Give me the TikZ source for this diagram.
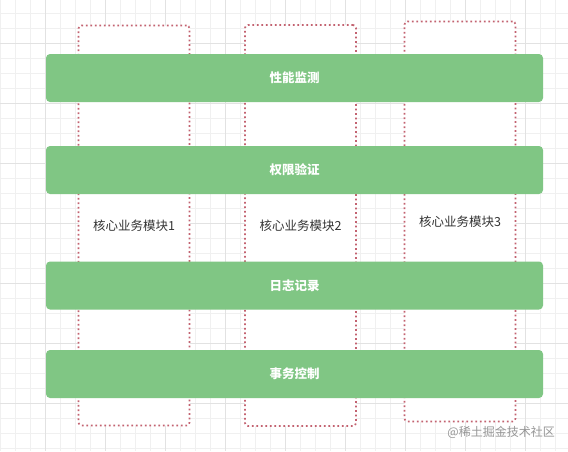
\documentclass[tikz,border=0pt]{standalone}
\usepackage{fontspec}
\setmainfont{Noto Sans CJK SC}
\definecolor{barg}{RGB}{128,198,132}
\definecolor{dotred}{RGB}{195,98,112}
\definecolor{gminor}{RGB}{240,240,240}
\definecolor{gmajor}{RGB}{226,226,226}
\definecolor{txt}{RGB}{51,51,51}
\definecolor{wm}{RGB}{150,150,150}
\tikzset{
  colbox/.style={draw=dotred, line width=1.7pt, dash pattern=on 1.7pt off 2.8pt, fill=white, rounded corners=3pt, minimum width=111pt, font=\fontsize{12.5pt}{14pt}\selectfont, text=txt, inner sep=0pt},
  barbox/.style={fill=barg, rounded corners=4pt, minimum width=497pt, minimum height=48pt, font=\fontsize{12.5pt}{14pt}\selectfont\bfseries, text=white, inner sep=0pt},
  wmark/.style={font=\fontsize{12pt}{14pt}\selectfont, text=wm, inner sep=0pt}
}
\begin{document}
\begin{tikzpicture}[x=1pt,y=-1pt]
\useasboundingbox (0,0) rectangle (568,451);
\fill[white] (0,0) rectangle (568,451);
% grid
\foreach \i in {0,...,37} {
  \draw[gminor, line width=0.8pt] (0.7+15*\i,0) -- (0.7+15*\i,451);
}
\foreach \i in {0,...,30} {
  \draw[gminor, line width=0.8pt] (0,13.3+15*\i) -- (568,13.3+15*\i);
}
\foreach \i in {0,...,9} {
  \draw[gmajor, line width=0.8pt] (45.7+60*\i-60,0) -- (45.7+60*\i-60,451);
}
\foreach \i in {0,...,8} {
  \draw[gmajor, line width=0.8pt] (0,43.3+60*\i) -- (568,43.3+60*\i);
}
% columns
\node[colbox, minimum height=400pt] (c1) at (134,225.5) {核心业务模块1};
\node[colbox, minimum height=401pt] (c2) at (300.5,225.5) {核心业务模块2};
\node[colbox, minimum height=400pt] (c3) at (460,221.5) {核心业务模块3};
% bars
\node[barbox] (b1) at (294.5,78) {性能监测};
\node[barbox] (b2) at (294.5,170) {权限验证};
\node[barbox] (b3) at (294.5,285.5) {日志记录};
\node[barbox] (b4) at (294.5,374) {事务控制};
% watermark
\node[wmark, anchor=east] (wm) at (555,432) {@稀土掘金技术社区};
\end{tikzpicture}
\end{document}
